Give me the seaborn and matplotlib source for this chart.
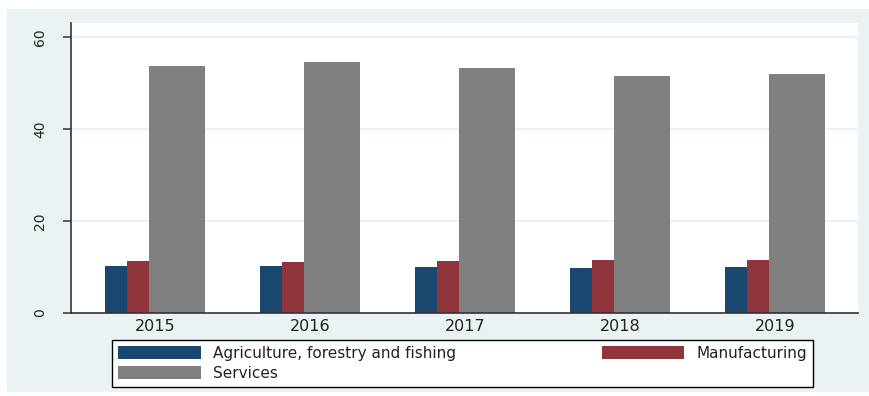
import matplotlib
matplotlib.use("Agg")
import matplotlib.pyplot as plt
from matplotlib.patches import Rectangle, Patch
import seaborn as sns
import pandas as pd

# ---- data ----
years = ["2015", "2016", "2017", "2018", "2019"]
sectors = ["Agriculture, forestry and fishing", "Manufacturing", "Services"]
agriculture = [10.2, 10.2, 10.1, 9.8, 10.1]
manufacturing = [11.2, 11.1, 11.2, 11.5, 11.6]
services = [53.7, 54.6, 53.3, 51.5, 52.0]
y_ticks = [0, 20, 40, 60]

colors = ["#1a476f", "#90353b", "#808080"]

df = pd.DataFrame({
    "year": years * 3,
    "sector": [s for s in sectors for _ in years],
    "value": agriculture + manufacturing + services,
})

sns.set_style("white")
plt.rcParams["font.family"] = ["DejaVu Sans"]

W, H = 870, 396
fig = plt.figure(figsize=(W / 100, H / 100), dpi=100)
fig.patch.set_facecolor("white")
# Stata-like outer background
fig.patches.append(Rectangle((7 / W, 4 / H), (W - 7) / W, (392 - 4 - 5) / H,
                             transform=fig.transFigure, facecolor="#eaf2f3",
                             edgecolor="none", zorder=-10))

ax = fig.add_axes([71 / W, 83 / H, 787 / W, 290 / H])
ax.set_facecolor("white")

sns.barplot(data=df, x="year", y="value", hue="sector", hue_order=sectors,
            order=years, palette=colors, saturation=1, ax=ax, legend=False,
            width=0.645, errorbar=None)

# Stata-style: the third bar of each group is wider
layout = [(-0.323, 0.142), (-0.181, 0.142), (-0.039, 0.362)]
for container, (off, w) in zip(ax.containers, layout):
    for i, bar in enumerate(container):
        bar.set_x(i + off)
        bar.set_width(w)
        bar.set_edgecolor("none")

ax.set_xlim(-0.542, 4.535)
ax.set_ylim(0, 63)
ax.set_yticks(y_ticks)
ax.set_xlabel("")
ax.set_ylabel("")

ax.yaxis.grid(True, color="#eaf2f3", lw=1.5)
ax.set_axisbelow(True)

for s in ["top", "right"]:
    ax.spines[s].set_visible(False)
for s in ["left", "bottom"]:
    ax.spines[s].set_color("#333333")
    ax.spines[s].set_linewidth(1.2)

ax.tick_params(axis="y", left=True, length=6, width=1.1, color="#333333",
               pad=11, labelsize=10, labelcolor="#222222", labelrotation=90)
for lab in ax.get_yticklabels():
    lab.set_va("center")
ax.tick_params(axis="x", length=0, pad=4, labelsize=11.5, labelcolor="#222222")

# legend (order so that row 1 = Agriculture, Manufacturing; row 2 = Services)
order = [0, 2, 1]
handles = [Patch(facecolor=colors[k], edgecolor="none") for k in order]
labels = [sectors[k] for k in order]
leg = fig.legend(handles, labels, loc="upper left",
                 bbox_to_anchor=(112 / W, 1 - 387 / H, (813 - 112) / W, 47 / H),
                 mode="expand", ncol=2, frameon=True, fancybox=False,
                 edgecolor="black", facecolor="white", framealpha=1,
                 fontsize=11, handlelength=5.4, handleheight=0.95,
                 handletextpad=0.8, labelspacing=0.3, borderpad=0.4,
                 borderaxespad=0)
leg.get_frame().set_linewidth(1.0)
for t in leg.get_texts():
    t.set_color("#222222")

fig.savefig("out.png", dpi=100, facecolor="white")
